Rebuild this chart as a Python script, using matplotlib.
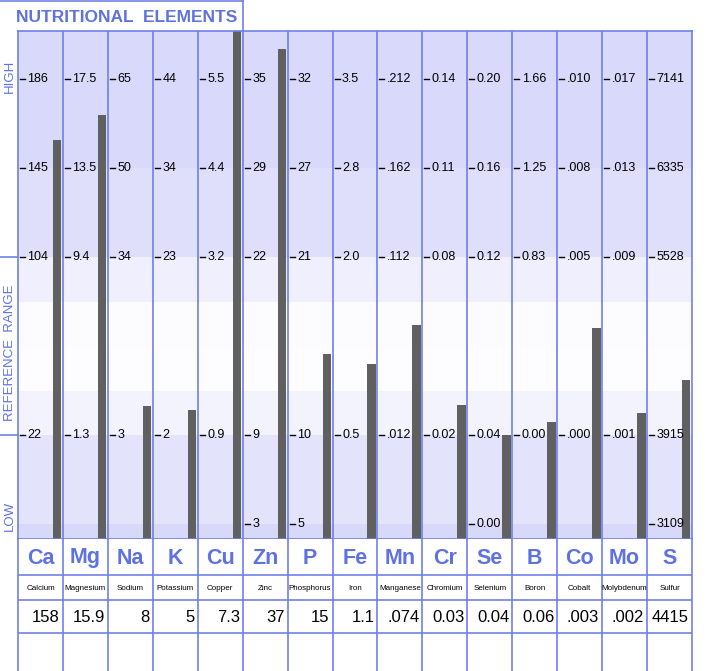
import matplotlib
matplotlib.use('Agg')
import matplotlib.pyplot as plt
from matplotlib.lines import Line2D
import numpy as np

plt.rcParams['font.family'] = ['Liberation Sans', 'DejaVu Sans']

symbols = ['Ca', 'Mg', 'Na', 'K', 'Cu', 'Zn', 'P', 'Fe', 'Mn', 'Cr', 'Se', 'B', 'Co', 'Mo', 'S']
names = ['Calcium', 'Magnesium', 'Sodium', 'Potassium', 'Copper', 'Zinc', 'Phosphorus', 'Iron',
         'Manganese', 'Chromium', 'Selenium', 'Boron', 'Cobalt', 'Molybdenum', 'Sulfur']
values = ['158', '15.9', '8', '5', '7.3', '37', '15', '1.1', '.074', '0.03', '0.04', '0.06', '.003', '.002', '4415']

# scale labels per column, from the HIGH end down to the LOW end
tick_high = ['186', '17.5', '65', '44', '5.5', '35', '32', '3.5', '.212', '0.14', '0.20', '1.66', '.010', '.017', '7141']
tick_upper = ['145', '13.5', '50', '34', '4.4', '29', '27', '2.8', '.162', '0.11', '0.16', '1.25', '.008', '.013', '6335']
tick_ref_hi = ['104', '9.4', '34', '23', '3.2', '22', '21', '2.0', '.112', '0.08', '0.12', '0.83', '.005', '.009', '5528']
tick_ref_lo = ['22', '1.3', '3', '2', '0.9', '9', '10', '0.5', '.012', '0.02', '0.04', '0.00', '.000', '.001', '3915']
tick_low = ['', '', '', '', '', '3', '5', '', '', '', '0.00', '', '', '', '3109']

blue_line = '#6f80e6'
blue_text = '#5f72e2'
px = 1 / 44.93  # one pixel in column units


def bar_level(val, labels, levels):
    xs = [float(l) for l in labels]
    ys = list(levels)
    v = float(val)
    # piecewise linear scale, extended past the ends
    if v >= xs[-1]:
        return ys[-1] + (v - xs[-1]) / (xs[-1] - xs[-2]) * (ys[-1] - ys[-2])
    if v <= xs[0]:
        return ys[0] + (v - xs[0]) / (xs[1] - xs[0]) * (ys[1] - ys[0])
    return float(np.interp(v, xs, ys))


fig = plt.figure(figsize=(7.1, 6.71), dpi=100)
ax = fig.add_axes([18 / 710, 132 / 671, 674 / 710, 508 / 671])
tab = fig.add_axes([18 / 710, 0, 674 / 710, 132 / 671])

n = len(symbols)
ax.set_xlim(0, n)
ax.set_ylim(-15 / 89, 493 / 89)

# background bands
bands = [(4, 6, '#d9d9fb'), (3, 4, '#dfdffc'), (2.5, 3, '#efeffd'), (2, 2.5, '#fcfcff'),
         (1.5, 2, '#fdfdff'), (1, 1.5, '#f3f3fe'), (0, 1, '#e3e3fc'), (-1, 0, '#d8d8f9')]
for lo, hi, c in bands:
    ax.axhspan(lo, hi, color=c, lw=0, zorder=0)

for i in range(n):
    labels, levels = [], []
    if tick_low[i]:
        labels.append(tick_low[i]); levels.append(0)
    labels += [tick_ref_lo[i], tick_ref_hi[i], tick_upper[i], tick_high[i]]
    levels += [1, 3, 4, 5]
    for lab, lv in zip(labels, levels):
        ax.plot([i + 2 * px, i + 7 * px], [lv, lv], color='black', lw=1, zorder=3)
        ax.text(i + 9.5 * px, lv, lab, fontsize=9, va='center', ha='left', zorder=3)
    h = bar_level(values[i], labels, levels)
    ax.bar(i + 1 - 10 * px, h - ax.get_ylim()[0], width=8.5 * px, bottom=ax.get_ylim()[0],
           align='edge', color='#606060', zorder=2)

for k in range(1, n):
    ax.axvline(k, color=blue_line, lw=1.2, zorder=4)
    tab.axvline(k, color=blue_line, lw=1.2)
for s in ax.spines.values():
    s.set_color(blue_line)
    s.set_linewidth(1.2)
ax.set_xticks([])
ax.set_yticks([])

# side labels
for lv in [1, 3]:
    ax.plot([-18 * px, 0], [lv, lv], color=blue_line, lw=1.2, clip_on=False)
ax.text(-8 * px, 5.03, 'HIGH', rotation=90, ha='center', va='center', color=blue_text, fontsize=9.5)
ax.text(-8 * px, 1.92, 'REFERENCE  RANGE', rotation=90, ha='center', va='center',
        color=blue_text, fontsize=9.5)
ax.text(-8 * px, 0.09, 'LOW', rotation=90, ha='center', va='center', color=blue_text, fontsize=9.5)

# table below the chart
tab.set_xlim(0, n)
tab.set_ylim(132, 0)
tab.set_xticks([])
tab.set_yticks([])
for side in ['top', 'bottom']:
    tab.spines[side].set_visible(False)
for side in ['left', 'right']:
    tab.spines[side].set_color(blue_line)
    tab.spines[side].set_linewidth(1.2)
for yr in [36, 61, 94]:
    tab.axhline(yr, color=blue_line, lw=1.2)

for i in range(n):
    tab.text(i + 0.5, 19, symbols[i], ha='center', va='center', fontsize=15.5,
             fontweight='bold', color=blue_text)
    tab.text(i + 0.5, 49, names[i], ha='center', va='center', fontsize=5.8)
    tab.text(i + 1 - 3 * px, 79, values[i], ha='right', va='center', fontsize=12)

# title box
fig.add_artist(Line2D([0, 243 / 710], [1 - 1 / 671, 1 - 1 / 671], color=blue_line, lw=1.2))
fig.add_artist(Line2D([243 / 710, 243 / 710], [1 - 1 / 671, 1 - 31 / 671], color=blue_line, lw=1.2))
fig.text(16 / 710, 1 - 18 / 671, 'NUTRITIONAL  ELEMENTS', ha='left', va='center', fontsize=12.5,
         fontweight='bold', color=blue_text)

fig.savefig('out.png', dpi=100)
